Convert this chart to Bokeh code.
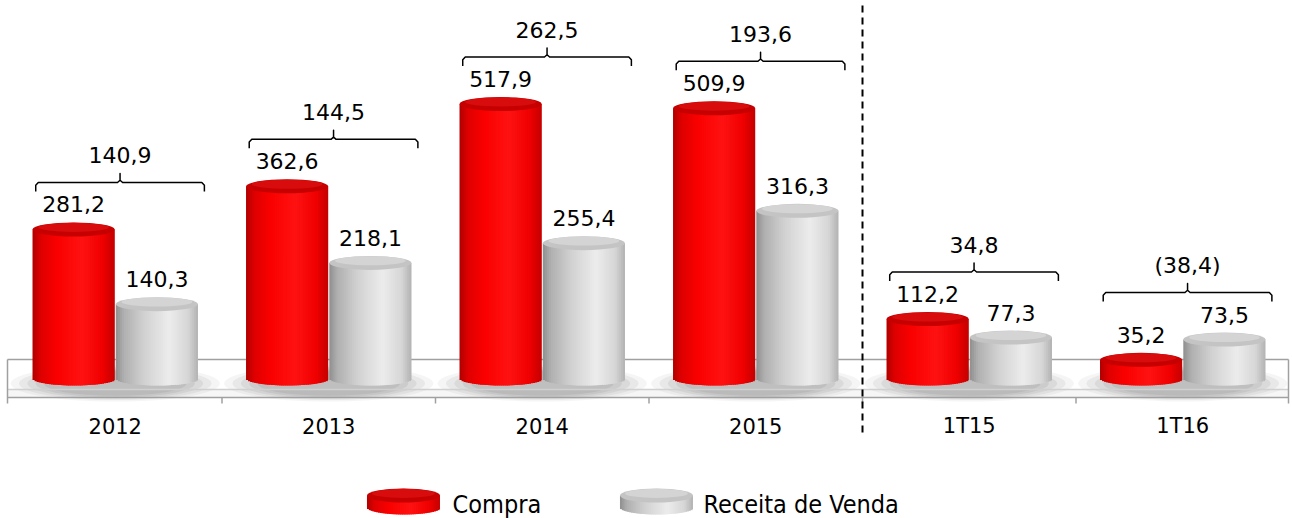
import numpy as np
from bokeh.plotting import figure
from bokeh.models import Range1d, ColumnDataSource
from bokeh.core.properties import value
from bokeh.embed import file_html
from bokeh.resources import INLINE

# ---------------- data ----------------
categories = ["2012", "2013", "2014", "2015", "1T15", "1T16"]
compra = [281.2, 362.6, 517.9, 509.9, 112.2, 35.2]
receita = [140.3, 218.1, 255.4, 316.3, 77.3, 73.5]
diferenca = ["140,9", "144,5", "262,5", "193,6", "34,8", "(38,4)"]
series_names = ["Compra", "Receita de Venda"]

# ---------------- style / layout ----------------
W, H = 1292, 518
G = 213.5                    # pixels per category
K = 0.53                     # pixels per value unit
BASE_PX = 378                # pixel row of value 0
X0, X1 = -0.5 - 8 / G, -0.5 + (W - 8) / G
Y0, Y1 = (BASE_PX - H) / K, BASE_PX / K
PX = 1 / K                   # data units per pixel (vertical)
E = 7 * PX                   # half-height of cylinder ellipses
BW = 0.385
OFFS = [-0.195, 0.195]
FONT = value("DejaVu Sans")

RED_STOPS = [(0, "#b00000"), (0.1, "#de0000"), (0.3, "#fa0000"), (0.6, "#ff1212"),
             (0.85, "#f00000"), (1, "#c40000")]
GRAY_STOPS = [(0, "#8f8f8f"), (0.1, "#b0b0b0"), (0.35, "#d2d2d2"), (0.65, "#ececec"),
              (0.88, "#d6d6d6"), (1, "#b2b2b2")]
TOPS = [("#c60000", "#d80c0c"), ("#c4c4c4", "#d4d4d4")]
STOPS = [RED_STOPS, GRAY_STOPS]


def hex2rgb(h):
    h = h.lstrip("#")
    return [int(h[i:i + 2], 16) for i in (0, 2, 4)]


def interp(stops, u):
    for (u0, c0), (u1, c1) in zip(stops[:-1], stops[1:]):
        if u0 <= u <= u1:
            t = (u - u0) / (u1 - u0) if u1 > u0 else 0
            a, b = hex2rgb(c0), hex2rgb(c1)
            return "#%02x%02x%02x" % tuple(int(round(a[k] + (b[k] - a[k]) * t)) for k in range(3))
    return stops[-1][1]


p = figure(width=W, height=H, x_range=Range1d(X0, X1), y_range=Range1d(Y0, Y1),
           output_backend="svg", toolbar_location=None, min_border=0,
           x_axis_type=None, y_axis_type=None)
p.grid.visible = False
p.outline_line_color = None
p.background_fill_color = "white"

# ---------------- platform (floor) ----------------
PL, PR = -0.5 - 1 / G, -0.5 + 1280 / G
plat_top = (BASE_PX - 359) * PX
plat_mid = (BASE_PX - 389) * PX
plat_bot = (BASE_PX - 397) * PX
tick_bot = (BASE_PX - 403) * PX
p.quad(left=[PL], right=[PR], top=[plat_top], bottom=[plat_bot],
       fill_color="white", line_color=None)
p.quad(left=[PL], right=[PR], top=[plat_mid], bottom=[plat_bot],
       fill_color="#f6f6f6", line_color=None)

n = len(categories)
# soft shadows under each group
for scale, alpha in [(1.0, 0.08), (0.92, 0.10), (0.84, 0.12), (0.76, 0.14), (0.68, 0.16)]:
    p.ellipse(x=list(range(n)), y=[-5 * PX] * n, width=[0.98 * scale] * n,
              height=[36 * PX * scale] * n, fill_color="#7a7a7a", fill_alpha=alpha,
              line_color=None)

p.segment(x0=[PL], y0=[plat_top], x1=[PR], y1=[plat_top], line_color="#a0a0a0", line_width=1.5)
p.segment(x0=[PL], y0=[plat_mid], x1=[PR], y1=[plat_mid], line_color="#d0d0d0", line_width=1.5)
p.segment(x0=[PL], y0=[plat_bot], x1=[PR], y1=[plat_bot], line_color="#a0a0a0", line_width=1.5)
p.segment(x0=[PL, PR], y0=[plat_top, plat_top], x1=[PL, PR], y1=[tick_bot, tick_bot],
          line_color="#a0a0a0", line_width=1.5)
bounds = [i + 0.5 for i in range(n - 1)]
p.segment(x0=bounds, y0=[plat_bot] * len(bounds), x1=bounds, y1=[tick_bot] * len(bounds),
          line_color="#a0a0a0", line_width=1.5)


# ---------------- cylinders ----------------
def cylinders(xs, tops, base, width, stops, topcols, N=40):
    L, R, T, B, C = [], [], [], [], []
    for xc, v in zip(xs, tops):
        sw = width / N
        for j in range(N):
            l = xc - width / 2 + j * sw
            uc = -1 + (2 * j + 1) / N
            L.append(l)
            R.append(min(l + sw * 1.8, xc + width / 2))
            T.append(v)
            B.append(base - E * np.sqrt(max(0.0, 1 - uc * uc)))
            C.append(interp(stops, (j + 0.5) / N))
    src = ColumnDataSource(dict(left=L, right=R, top=T, bottom=B, color=C))
    p.quad(left="left", right="right", top="top", bottom="bottom", source=src,
           fill_color="color", line_color=None)
    p.ellipse(x=list(xs), y=list(tops), width=[width] * len(xs), height=[2 * E] * len(xs),
              fill_color=topcols[0], line_color=None)
    p.ellipse(x=list(xs), y=[v + 0.3 * E for v in tops], width=[width * 0.86] * len(xs),
              height=[1.3 * E] * len(xs), fill_color=topcols[1], line_color=None)


for s, vals in enumerate([compra, receita]):
    xs = [i + OFFS[s] for i in range(n)]
    cylinders(xs, vals, 0.0, BW, STOPS[s], TOPS[s])


def fmt(v):
    return f"{v:.1f}".replace(".", ",")


# value labels
for s, vals in enumerate([compra, receita]):
    p.text(x=[i + OFFS[s] for i in range(n)], y=[v + E + 18 * PX for v in vals],
           text=[fmt(v) for v in vals], text_font=FONT, text_font_size="22px",
           text_align="center", text_baseline="middle", text_color="black")

# brackets + difference labels
xs_b, ys_b, lx, ly = [], [], [], []
for i in range(n):
    top = max(compra[i], receita[i])
    yb = top + E + 40 * PX
    left = i + OFFS[0] - BW / 2 + 0.015
    right = i + OFFS[1] + BW / 2 + 0.03
    c = (left + right) / 2
    d = 9 * PX
    t = 9 * PX
    r = 0.012
    xs_b.append([left, left, left + r, c - r, c, c, c, c + r, right - r, right, right])
    ys_b.append([yb - d, yb - 0.3 * d, yb, yb, yb + 0.25 * t, yb + t, yb + 0.25 * t, yb, yb,
                 yb - 0.3 * d, yb - d])
    lx.append(c)
    ly.append(yb + 27 * PX)
p.multi_line(xs=xs_b, ys=ys_b, line_color="black", line_width=1.5, line_join="round")
p.text(x=lx, y=ly, text=diferenca, text_font=FONT, text_font_size="22px",
       text_align="center", text_baseline="middle", text_color="black")

# category labels
p.text(x=list(range(n)), y=[(BASE_PX - 425) * PX] * n, text=categories, text_font=FONT,
       text_font_size="21px", text_align="center", text_baseline="middle", text_color="black")

# dashed separator between annual and quarterly data
p.segment(x0=[3.5], y0=[(BASE_PX - 432) * PX], x1=[3.5], y1=[Y1], line_color="black",
          line_width=2, line_dash="7 5")

# ---------------- legend ----------------
leg_x = [1.350, 2.535]
leg_tx = [1.580, 2.755]
leg_base = (BASE_PX - 507) * PX
leg_top = (BASE_PX - 495) * PX
for s in range(2):
    cylinders([leg_x[s]], [leg_top], leg_base, 0.342, STOPS[s], TOPS[s])
p.text(x=leg_tx, y=[(BASE_PX - 504) * PX] * 2, text=series_names,
       text_font=value("DejaVu Sans Condensed"), text_font_size="25px",
       text_align="left", text_baseline="middle", text_color="black")

open("out.html", "w").write(file_html(p, INLINE))
